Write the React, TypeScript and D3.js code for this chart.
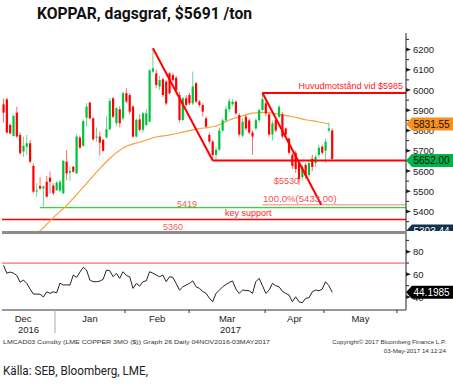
import React from 'react';
import * as d3 from 'd3';

// ---- data ----
const opens = [5929,5954,5827,5773,5888,5778,5696,5720,5737,5625,5500,5526,5514,5547,5567,5528,5506,5503,5490,5646,5592,5621,5588,5765,5724,5863,5938,5860,5765,5770,5753,5766,5806,5959,5836,5905,5860,5984,5975,5918,5770,5855,5803,5827,5844,6091,6082,6017,6053,6041,6082,6074,6060,5975,5852,5959,5975,5934,6033,5943,5926,5860,5778,5745,5680,5705,5800,5850,5905,5930,5942,5876,5775,5868,5850,5790,5810,5851,5901,5934,5880,5780,5851,5868,5880,5810,5760,5680,5690,5640,5570,5630,5580,5660,5640,5680,5720,5700,5800,5800];
const highs = [5959,5962,5835,5880,5918,5790,5770,5778,5753,5638,5540,5569,5530,5575,5597,5540,5550,5555,5655,5704,5620,5625,5781,5775,5855,5935,5940,5865,5815,5795,5760,5870,5960,5965,5915,5920,5990,6010,5985,5925,5860,5880,5890,5905,6105,6206,6100,6070,6060,6050,6088,6085,6070,5990,5965,5975,5985,6091,6040,5950,5935,5870,5790,5753,5720,5815,5860,5920,5958,5955,5948,5885,5860,5880,5860,5800,5860,5910,5991,5945,5890,5850,5860,5925,5890,5815,5765,5690,5700,5650,5630,5640,5650,5680,5680,5730,5730,5760,5840,5810];
const lows = [5839,5785,5780,5770,5765,5680,5670,5680,5638,5490,5474,5506,5424,5470,5490,5480,5500,5495,5485,5555,5552,5590,5585,5710,5720,5820,5855,5750,5745,5676,5695,5760,5800,5860,5820,5815,5850,5935,5880,5765,5765,5795,5790,5820,5840,6085,6010,6000,5965,5925,5978,6040,5990,5840,5845,5915,5925,5925,5935,5915,5870,5810,5735,5652,5655,5700,5790,5840,5890,5920,5880,5770,5765,5800,5780,5679,5800,5840,5895,5870,5770,5750,5790,5860,5760,5770,5680,5610,5590,5530,5555,5560,5570,5600,5620,5665,5680,5640,5790,5652];
const closes = [5888,5790,5786,5872,5770,5688,5724,5737,5646,5498,5503,5514,5523,5473,5547,5490,5543,5547,5650,5588,5600,5597,5770,5715,5847,5918,5860,5756,5770,5740,5700,5806,5946,5868,5910,5836,5984,5943,5893,5770,5852,5803,5885,5885,6096,6107,6025,6049,5975,5934,5984,6049,6000,5852,5959,5926,5934,6017,5943,5926,5893,5819,5745,5679,5705,5800,5850,5905,5945,5942,5884,5780,5843,5810,5790,5770,5851,5901,5955,5884,5780,5835,5800,5917,5770,5780,5690,5625,5610,5560,5620,5575,5640,5620,5670,5715,5690,5745,5810,5660];

const rsiValues = [68,61,62,61,59,53,55,52,47,42.6,42.6,42.5,40,44.6,43.2,44.6,43.7,52.3,50.5,50.8,50.5,59.4,57.3,62,66.2,63.8,55,53.5,53.5,54,55.6,63.8,63.2,57.9,60.9,56.5,62.3,59,57.9,47.6,52,49.6,53.5,54.3,62.3,61,59.4,57.9,59.4,53.5,57.9,57.3,52,46.1,49,50.5,52,54.3,49,47.6,45,43.2,39,35.8,43.2,46,49,51,52.9,54.1,47,43.2,46.1,45.8,45.5,43.2,53.5,56.5,50,43.2,46.1,52,50,49,45,43.2,41.7,35.8,40.2,35.8,34.9,38.8,39.3,44.6,46.1,45.5,47,53.5,50,44.2];

const maIdx = [10,12,15,19,24,29,32,37,41,46,50,54,58,64,68,72,75,79,83,87,91,95,98];
const maValues = [5290,5320,5370,5430,5520,5612,5662,5722,5742,5768,5778,5792,5807,5822,5852,5872,5886,5890,5880,5868,5853,5842,5832];

const monthLabels = ['Dec','Jan','Feb','Mar','Apr','May'];
const monthBounds = [-3.7,15.5,36.6,55.9,78.8,96.5,118.5];
const yearLabels = ['2016','2017'];
const priceTicks = [5400,5500,5600,5700,5800,5900,6000,6100,6200];
const priceMinor = [5350,5450,5550,5650,5750,5850,5950,6050,6150,6250];
const rsiTicks = [40,60,80];
const rsiMinor = [50,70,90];

const resistance = 5985;
const neckline = 5652;
const fib100 = 5433;
const decLow = 5419;
const keySupport = 5360;
const aprLow = 5530;
const lastMA = 5831.55;
const lastRSI = 44.1985;
const ma200 = 5303.44;
const trend1 = [{ i: 45, v: 6206 }, { i: 63, v: 5652 }];
const trend2 = [{ i: 78, v: 5985 }, { i: 95.7, v: 5433 }];

// ---- layout ----
const W = 453, H = 391;
const plotL = 2, axisX = 406;
const mainTop = 33, mainBottom = 231;
const rsiTop = 235, rsiBottom = 310;

const FONT = "'Liberation Sans', Arial, sans-serif";

export default function App() {
  const x = d3.scaleLinear().domain([0, 99]).range([3.54, 332.2]);
  const y = d3.scaleLinear().domain([5400, 6200]).range([211.5, 49.5]);
  const ry = d3.scaleLinear().domain([40, 80]).range([297, 251.7]);

  const maLine = d3.line<number>()
    .x((_, k) => x(maIdx[k]))
    .y((d) => y(d))
    .curve(d3.curveMonotoneX)(maValues) || '';
  const rsiLine = d3.line<number>()
    .x((_, k) => x(k))
    .y((d) => ry(d))(rsiValues) || '';

  const label = (cy: number, bg: string, fg: string, txt: string, key: string) => (
    <g key={key}>
      <path d={`M${axisX},${cy} L${axisX + 6},${cy - 6.5} L${W},${cy - 6.5} L${W},${cy + 6.5} L${axisX + 6},${cy + 6.5} Z`} fill={bg} />
      <text x={axisX + 7.5} y={cy + 3.6} fontSize={10} fill={fg} fontFamily={FONT}>{txt}</text>
    </g>
  );

  const yr = [
    { t: yearLabels[0], c: (plotL + x(monthBounds[1])) / 2 },
    { t: yearLabels[1], c: (x(monthBounds[1]) + axisX) / 2 },
  ];

  return (
    <svg width={W} height={H} style={{ position: 'absolute', left: 0, top: 0, background: '#fff' }} xmlns="http://www.w3.org/2000/svg">
      <defs>
        <clipPath id="mainClip"><rect x={0} y={mainTop} width={W} height={mainBottom - mainTop} /></clipPath>
      </defs>
      <rect x={0} y={0} width={W} height={H} fill="#fff" />

      {/* title */}
      <text x={37} y={19} fontSize={16.5} fontWeight="bold" fontFamily="Roboto, sans-serif" textLength={215} lengthAdjust="spacingAndGlyphs" fill="#111">KOPPAR, dagsgraf, $5691 /ton</text>

      {/* main panel */}
      <g clipPath="url(#mainClip)">
        {/* reference lines */}
        <line x1={plotL} x2={axisX} y1={y(keySupport)} y2={y(keySupport)} stroke="#ff0000" strokeWidth={1.5} />
        <line x1={x(11)} x2={axisX} y1={y(decLow)} y2={y(decLow)} stroke="#22dd33" strokeWidth={1.2} />
        <line x1={x(78)} x2={axisX} y1={y(fib100)} y2={y(fib100)} stroke="#f08080" strokeWidth={1} />

        {/* MA */}
        <path d={maLine} fill="none" stroke="#f7a13a" strokeWidth={1.2} />

        {/* candles */}
        {closes.map((c, i) => {
          const up = c >= opens[i];
          const cx = x(i);
          const top = y(Math.max(opens[i], c));
          const bot = y(Math.min(opens[i], c));
          return (
            <g key={i}>
              <line x1={cx} x2={cx} y1={y(highs[i])} y2={y(lows[i])} stroke={up ? '#66d88a' : '#ff6a6a'} strokeWidth={1} />
              <rect x={cx - 1.1} y={top} width={2.2} height={Math.max(1, bot - top)} fill={up ? '#00c23a' : '#ff0000'} />
            </g>
          );
        })}

        {/* trend/annotation lines */}
        <line x1={x(trend1[0].i)} y1={y(trend1[0].v)} x2={x(trend1[1].i)} y2={y(trend1[1].v)} stroke="#ff0000" strokeWidth={2} />
        <line x1={x(trend2[0].i)} y1={y(trend2[0].v)} x2={x(trend2[1].i)} y2={y(trend2[1].v)} stroke="#ff0000" strokeWidth={2} />
        <line x1={x(trend2[0].i)} x2={axisX} y1={y(resistance)} y2={y(resistance)} stroke="#ff0000" strokeWidth={2} />
        <line x1={x(trend1[1].i)} x2={axisX} y1={y(neckline)} y2={y(neckline)} stroke="#ff0000" strokeWidth={2} />

        {/* annotation texts */}
        <text x={403} y={89} textAnchor="end" fontSize={9} fill="#ff2020" fontFamily={FONT}>Huvudmotstånd vid $5985</text>
        <text x={274} y={184} fontSize={9} fill="#f05050" fontFamily={FONT}>${aprLow}</text>
        <text x={263} y={201.5} fontSize={9.6} fill="#f05050" fontFamily={FONT}>100.0%(5433.00)</text>
        <text x={177} y={206.5} fontSize={9} fill="#f06060" fontFamily={FONT}>{decLow}</text>
        <text x={225} y={216} fontSize={9} fill="#ff2020" fontFamily={FONT}>key support</text>
        <text x={163} y={229.5} fontSize={9} fill="#f06060" fontFamily={FONT}>{keySupport}</text>

        {/* hidden label at MA200 */}
        {label(y(ma200), '#12324d', '#fff', ma200.toFixed(2), 'ma200')}
      </g>

      {/* main axis */}
      <line x1={axisX} x2={axisX} y1={mainTop} y2={rsiBottom} stroke="#222" strokeWidth={1} />
      {priceMinor.map((v) => (
        <line key={'pm' + v} x1={axisX} x2={axisX + 3} y1={y(v)} y2={y(v)} stroke="#222" strokeWidth={1} />
      ))}
      {priceTicks.map((v) => (
        <g key={'pt' + v}>
          <path d={`M${axisX},${y(v) - 2} L${axisX + 5},${y(v)} L${axisX},${y(v) + 2} Z`} fill="#222" />
          <text x={413} y={y(v) + 3.5} fontSize={9.5} fill="#222" fontFamily={FONT}>{v}</text>
        </g>
      ))}
      {label(y(lastMA), '#f7901e', '#111', lastMA.toFixed(2), 'ma')}
      {label(y(neckline), '#00b34a', '#111', neckline.toFixed(2), 'neck')}

      {/* separator */}
      <line x1={plotL} x2={axisX} y1={232.5} y2={232.5} stroke="#8c8c8c" strokeWidth={3} />

      {/* RSI panel */}
      <line x1={plotL} x2={axisX} y1={ry(70)} y2={ry(70)} stroke="#f07468" strokeWidth={1.2} />
      <path d={rsiLine} fill="none" stroke="#222" strokeWidth={1} />
      {rsiMinor.map((v) => (
        <line key={'rm' + v} x1={axisX} x2={axisX + 3} y1={ry(v)} y2={ry(v)} stroke="#222" />
      ))}
      {rsiTicks.map((v) => (
        <g key={'rt' + v}>
          <path d={`M${axisX},${ry(v) - 2} L${axisX + 5},${ry(v)} L${axisX},${ry(v) + 2} Z`} fill="#222" />
          <text x={413} y={ry(v) + 3.5} fontSize={9.5} fill="#222" fontFamily={FONT}>{v}</text>
        </g>
      ))}
      {label(ry(lastRSI), '#000', '#fff', lastRSI.toFixed(4), 'rsi')}

      {/* x axis */}
      <line x1={plotL} x2={axisX} y1={rsiBottom} y2={rsiBottom} stroke="#333" strokeWidth={1} />
      {monthBounds.filter((b) => x(b) > plotL && x(b) < axisX).map((b, k) => (
        <line key={'mb' + k} x1={x(b)} x2={x(b)} y1={rsiBottom} y2={k === 0 ? 333 : 313} stroke={k === 0 ? '#aaa' : '#333'} strokeWidth={1} />
      ))}
      {monthLabels.map((m, k) => (
        <text key={m} x={(x(monthBounds[k]) + x(monthBounds[k + 1])) / 2} y={322} textAnchor="middle" fontSize={9.5} fill="#222" fontFamily={FONT}>{m}</text>
      ))}
      {yr.map((d) => (
        <text key={d.t} x={d.c} y={333} textAnchor="middle" fontSize={9.5} fill="#222" fontFamily={FONT}>{d.t}</text>
      ))}

      {/* footer */}
      <text x={3} y={344} fontSize={6.2} fill="#333" fontFamily={FONT} textLength={267} lengthAdjust="spacingAndGlyphs">LMCAD03 Comdty (LME COPPER   3MO ($)) Graph 26  Daily 04NOV2016-03MAY2017</text>
      <text x={446} y={344} textAnchor="end" fontSize={6.2} fill="#333" fontFamily={FONT}>Copyright© 2017 Bloomberg Finance L.P.</text>
      <text x={446} y={352.5} textAnchor="end" fontSize={6.2} fill="#333" fontFamily={FONT}>03-May-2017 14:12:24</text>

      <text x={3} y={375} fontSize={13} fill="#222" fontFamily="Roboto, sans-serif" textLength={145} lengthAdjust="spacingAndGlyphs">Källa: SEB, Bloomberg, LME,</text>
    </svg>
  );
}
